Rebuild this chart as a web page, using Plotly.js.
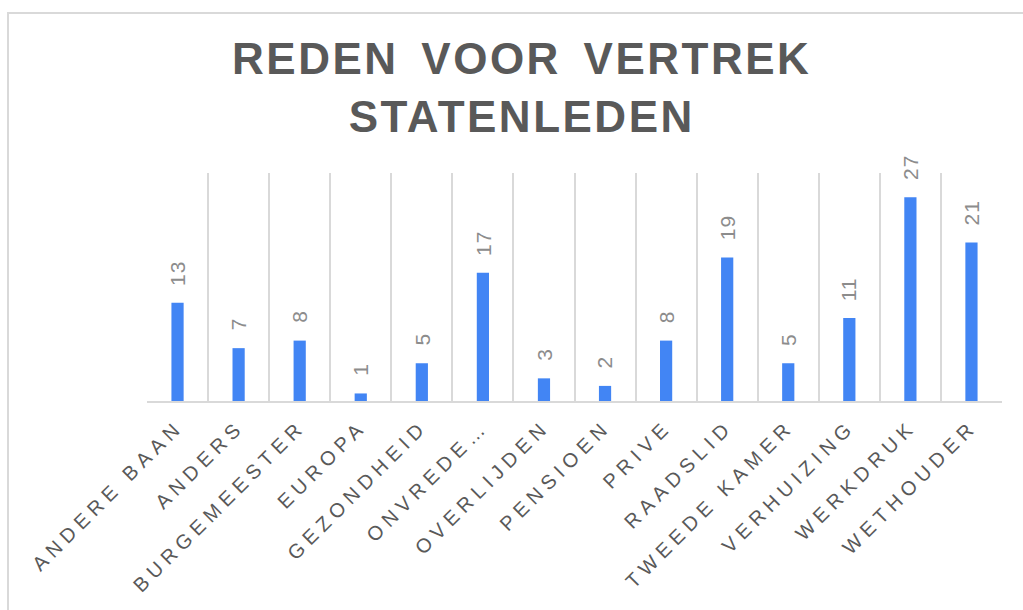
<!DOCTYPE html>
<html>
<head>
<meta charset="utf-8">
<script src="https://cdn.plot.ly/plotly-3.0.1.min.js"></script>
<style>
  html, body { margin: 0; padding: 0; background: #fff; }
  #wrap { position: relative; width: 1023px; height: 610px; overflow: hidden; }
  #frame { position: absolute; left: 7px; top: 12px; width: 1100px; height: 700px;
           border-left: 2px solid #d9d9d9; border-top: 2px solid #d9d9d9; pointer-events: none; z-index: 5; }
  #chart { position: absolute; left: 0; top: 0; width: 1023px; height: 610px; }
  #chart .xtick text { letter-spacing: 5.5px; }
  #chart .gtitle { letter-spacing: 2.5px; word-spacing: 8px; }
  #chart .annotation-text { letter-spacing: 1px; }
</style>
</head>
<body>
<div id="wrap">
  <div id="chart"></div>
  <div id="frame"></div>
</div>
<script>
const categories = ["ANDERE BAAN", "ANDERS", "BURGEMEESTER", "EUROPA", "GEZONDHEID", "ONVREDE…",
  "OVERLIJDEN", "PENSIOEN", "PRIVE", "RAADSLID", "TWEEDE KAMER", "VERHUIZING", "WERKDRUK", "WETHOUDER"];
const values = [13, 7, 8, 1, 5, 17, 3, 2, 8, 19, 5, 11, 27, 21];
const chartTitle = "REDEN VOOR VERTREK<br>STATENLEDEN";

const FONT = "Liberation Sans, Arial, sans-serif";

const trace = {
  type: "bar",
  x: categories,
  y: values,
  marker: { color: "#4285f4" },
  hoverinfo: "none"
};

const annotations = categories.map((c, i) => ({
  x: c,
  y: values[i],
  xref: "x",
  yref: "y",
  text: String(values[i]),
  showarrow: false,
  textangle: -90,
  xanchor: "center",
  yanchor: "bottom",
  yshift: 16,
  font: { family: FONT, size: 21, color: "#8c8c8c" }
}));

const layout = {
  width: 1023,
  height: 610,
  margin: { l: 147, r: 21, t: 173, b: 209 },
  paper_bgcolor: "#ffffff",
  plot_bgcolor: "#ffffff",
  bargap: 0.8,
  showlegend: false,
  annotations: annotations,
  title: {
    text: chartTitle,
    x: 0.51,
    xanchor: "center",
    y: 0.878,
    yref: "container",
    yanchor: "middle",
    font: { family: FONT, size: 44, color: "#595959", weight: "bold" }
  },
  xaxis: {
    type: "category",
    tickson: "boundaries",
    showgrid: true,
    gridcolor: "#d9d9d9",
    gridwidth: 2,
    showline: true,
    linecolor: "#d9d9d9",
    linewidth: 2,
    ticks: "",
    tickangle: -45,
    ticklabelstandoff: 4,
    tickfont: { family: FONT, size: 20, color: "#595959" }
  },
  yaxis: {
    range: [0, 30.2],
    showgrid: false,
    zeroline: false,
    showticklabels: false,
    showline: false,
    ticks: ""
  }
};

Plotly.newPlot("chart", [trace], layout, { displayModeBar: false, staticPlot: true });
</script>
</body>
</html>
